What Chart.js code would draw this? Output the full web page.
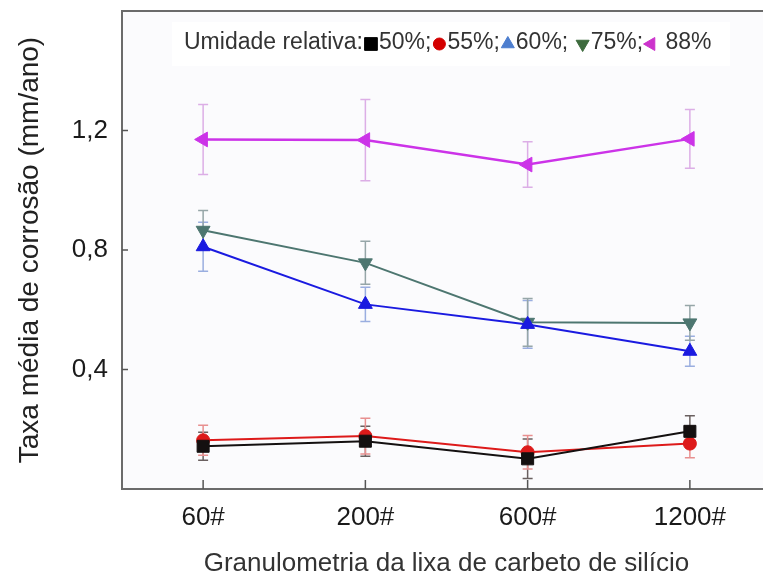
<!DOCTYPE html>
<html lang="pt">
<head>
  <meta charset="UTF-8">
  <title>Taxa média de corrosão</title>
  <script src="https://cdn.jsdelivr.net/npm/chart.js"></script>
  <style>
    body {
      margin: 0;
      padding: 0;
      background: #ffffff;
      overflow: hidden;
    }
    .wrap {
      width: 790px;
      height: 579px;
    }
  </style>
</head>
<body>
  <div class="wrap"><canvas id="chart"></canvas></div>

  <script>
    // grit sizes of the SiC paper
    const grits = ['60#', '200#', '600#', '1200#'];
    const humidity = ['50%', '55%', '60%', '75%', '88%'];

    // mean corrosion rate (mm/ano) per humidity
    const rh50 = [0.143, 0.160, 0.101, 0.193];
    const rh55 = [0.163, 0.177, 0.123, 0.152];
    const rh60 = [0.811, 0.618, 0.551, 0.461];
    const rh75 = [0.866, 0.757, 0.558, 0.556];
    const rh88 = [1.170, 1.168, 1.086, 1.172];

    // error bar half-widths
    const err50 = [0.047, 0.050, 0.066, 0.052];
    const err55 = [0.050, 0.060, 0.056, 0.047];
    const err60 = [0.082, 0.057, 0.080, 0.050];
    const err75 = [0.066, 0.072, 0.080, 0.058];
    const err88 = [0.117, 0.136, 0.076, 0.098];

    const yTicks = [0.4, 0.8, 1.2];

    const FONT = "'Liberation Sans', Arial, sans-serif";

    const series = [
      { data: rh50, err: err50, color: '#141010', errColor: '#6a6060', style: 'rect', rot: 0, r: 8.5, keyR: 9, key: '#000000' },
      { data: rh55, err: err55, color: '#dd1a1a', errColor: '#e89090', style: 'circle', rot: 0, r: 6.5, keyR: 6, key: '#d40000' },
      { data: rh60, err: err60, color: '#1a1ae0', errColor: '#9aaee0', style: 'triangle', rot: 0, r: 8, keyR: 7.5, key: '#4d7ecf' },
      { data: rh75, err: err75, color: '#4d7670', errColor: '#96a6a8', style: 'triangle', rot: 180, r: 8, keyR: 7.5, key: '#3d6b3d' },
      { data: rh88, err: err88, color: '#cc33e8', errColor: '#dcaee6', style: 'triangle', rot: 270, r: 8.5, keyR: 7.5, key: '#cc33cc' }
    ];

    const datasets = series.map((s, i) => ({
      label: humidity[i],
      data: s.data,
      borderColor: s.color,
      backgroundColor: s.color,
      borderWidth: i === 4 ? 2.5 : 2,
      pointStyle: s.style,
      pointRotation: s.rot,
      pointRadius: s.r,
      pointBorderWidth: 1,
      tension: 0
    }));

    // plot background, top frame line and inward ticks
    const frame = {
      id: 'frame',
      beforeDraw(chart) {
        const { ctx, chartArea: a } = chart;
        ctx.save();
        ctx.fillStyle = '#fbfbfd';
        ctx.fillRect(a.left, a.top, a.right - a.left, a.bottom - a.top);
        ctx.restore();
      },
      afterDraw(chart) {
        const { ctx, chartArea: a, scales: { x, y } } = chart;
        ctx.save();
        ctx.strokeStyle = '#6b6b6b';
        ctx.lineWidth = 2;
        ctx.beginPath();
        ctx.moveTo(a.left - 1, a.top);
        ctx.lineTo(a.right, a.top);
        ctx.stroke();

        ctx.lineWidth = 1.5;
        ctx.strokeStyle = '#555';
        yTicks.forEach(v => {
          const py = y.getPixelForValue(v);
          ctx.beginPath();
          ctx.moveTo(a.left, py);
          ctx.lineTo(a.left + 6, py);
          ctx.stroke();
        });
        grits.forEach((g, j) => {
          const px = x.getPixelForValue(j);
          ctx.beginPath();
          ctx.moveTo(px, a.bottom);
          ctx.lineTo(px, a.bottom - 9);
          ctx.stroke();
        });
        ctx.restore();
      }
    };

    const errorBars = {
      id: 'errorBars',
      beforeDatasetsDraw(chart) {
        const { ctx, scales: { x, y } } = chart;
        ctx.save();
        ctx.lineWidth = 1.5;
        series.forEach(s => {
          ctx.strokeStyle = s.errColor;
          s.data.forEach((v, j) => {
            const px = x.getPixelForValue(j);
            const top = y.getPixelForValue(v + s.err[j]);
            const bot = y.getPixelForValue(v - s.err[j]);
            ctx.beginPath();
            ctx.moveTo(px, top);
            ctx.lineTo(px, bot);
            ctx.moveTo(px - 5, top);
            ctx.lineTo(px + 5, top);
            ctx.moveTo(px - 5, bot);
            ctx.lineTo(px + 5, bot);
            ctx.stroke();
          });
        });
        ctx.restore();
      }
    };

    // one-line key: "Umidade relativa:■50%;●55%;..."
    const keyLine = {
      id: 'keyLine',
      afterDatasetsDraw(chart) {
        const { ctx } = chart;
        const cy = 43;
        ctx.save();
        ctx.fillStyle = '#ffffff';
        ctx.fillRect(172, 22, 558, 44);
        ctx.font = '23px ' + FONT;
        ctx.textBaseline = 'middle';
        let cx = 184;
        const text = t => {
          ctx.fillStyle = '#333';
          ctx.fillText(t, cx, cy);
          cx += ctx.measureText(t).width;
        };
        text('Umidade relativa:');
        const labels = ['50%;', '55%;', '60%; ', '75%;', ' 88%'];
        series.forEach((s, i) => {
          cx += 8;
          ctx.fillStyle = s.key;
          ctx.strokeStyle = s.key;
          Chart.helpers.drawPoint(ctx, {
            pointStyle: s.style,
            rotation: s.rot,
            radius: s.keyR,
            borderWidth: 1
          }, cx, cy + 1);
          cx += 8;
          text(labels[i]);
        });
        ctx.restore();
      }
    };

    new Chart(document.getElementById('chart'), {
      type: 'line',
      data: { labels: grits, datasets: datasets },
      options: {
        responsive: true,
        maintainAspectRatio: false,
        animation: false,
        layout: { padding: { top: 11, right: 19, left: 0, bottom: 0 } },
        plugins: {
          legend: { display: false },
          tooltip: { enabled: false }
        },
        scales: {
          x: {
            offset: true,
            grid: { display: false, drawTicks: false },
            border: { display: true, color: '#6b6b6b', width: 2 },
            ticks: {
              color: '#1a1a1a',
              padding: 13,
              font: { family: FONT, size: 26 }
            },
            title: {
              display: true,
              text: 'Granulometria da lixa de carbeto de silício',
              color: '#333',
              font: { family: FONT, size: 26 },
              padding: { top: 0, bottom: 0 }
            },
            afterFit(scale) {
              scale.height = 90;
              scale.paddingLeft = 0;
              scale.paddingRight = 0;
            }
          },
          y: {
            min: 0,
            max: 1.6,
            grid: { display: false, drawTicks: false },
            border: { display: true, color: '#6b6b6b', width: 2 },
            ticks: {
              stepSize: 0.4,
              color: '#1a1a1a',
              padding: 14,
              font: { family: FONT, size: 26 },
              callback: v => yTicks.some(t => Math.abs(t - v) < 1e-6) ? v.toFixed(1).replace('.', ',') : ''
            },
            title: {
              display: true,
              text: 'Taxa média de corrosão (mm/ano)',
              color: '#222',
              font: { family: FONT, size: 28 },
              padding: { top: 13, bottom: 0 }
            },
            afterFit(scale) {
              scale.width = 122;
              scale.paddingTop = 0;
              scale.paddingBottom = 0;
            }
          }
        }
      },
      plugins: [frame, errorBars, keyLine]
    });
  </script>
</body>
</html>
